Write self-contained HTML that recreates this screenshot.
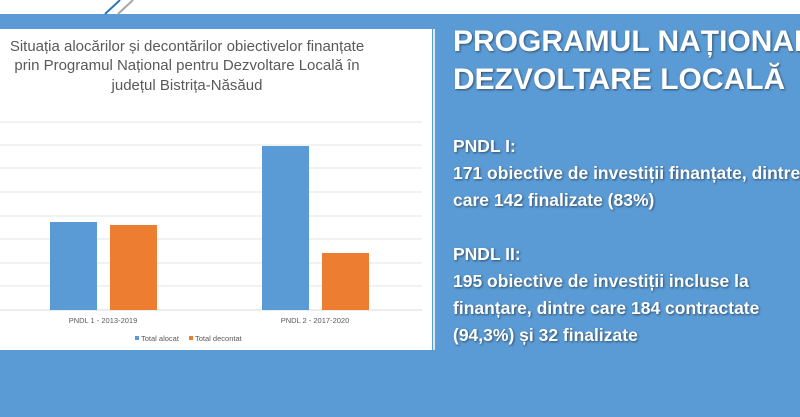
<!DOCTYPE html>
<html><head><meta charset="utf-8"><style>
body{margin:0;width:800px;height:417px;overflow:hidden;background:#5b9bd5;position:relative;font-family:"Liberation Sans",sans-serif}
.top{position:absolute;left:0;top:0;width:800px;height:14px;background:#fff}
.panel{position:absolute;left:0;top:29px;width:432px;height:321px;background:#fff}
.t{position:absolute;color:#fff;font-weight:bold;text-shadow:1px 1px 2px rgba(0,0,0,.5);white-space:nowrap;left:453px}
</style></head><body>
<div class="top"></div>
<svg style="position:absolute;left:0;top:0" width="800" height="20">
<line x1="105" y1="14" x2="120" y2="0" stroke="#2e75b6" stroke-width="2"/>
<line x1="118" y1="14" x2="133" y2="0" stroke="#a6a6a6" stroke-width="2"/>
</svg>
<div class="panel"></div>
<svg style="position:absolute;left:0;top:0" width="440" height="360">
<g font-family="Liberation Sans, sans-serif" fill="#595959" font-size="15" text-anchor="middle">
<text x="187" y="51">Situația alocărilor și decontărilor obiectivelor finanțate</text>
<text x="187" y="70">prin Programul Național pentru Dezvoltare Locală în</text>
<text x="187" y="90">județul Bistrița-Năsăud</text>
</g>
<g stroke="#e6e6e6" stroke-width="1">
<line x1="0" y1="122" x2="422" y2="122"/><line x1="0" y1="145" x2="422" y2="145"/>
<line x1="0" y1="168" x2="422" y2="168"/><line x1="0" y1="192" x2="422" y2="192"/>
<line x1="0" y1="216" x2="422" y2="216"/><line x1="0" y1="239" x2="422" y2="239"/>
<line x1="0" y1="263" x2="422" y2="263"/><line x1="0" y1="286" x2="422" y2="286"/>
</g>
<line x1="0" y1="310" x2="422" y2="310" stroke="#d9d9d9"/>
<rect x="50" y="222" width="47" height="88" fill="#5b9bd5"/>
<rect x="110" y="225" width="47" height="85" fill="#ed7d31"/>
<rect x="262" y="146" width="47" height="164" fill="#5b9bd5"/>
<rect x="322" y="253" width="47" height="57" fill="#ed7d31"/>
<g font-family="Liberation Sans, sans-serif" fill="#595959" font-size="7.5" text-anchor="middle">
<text x="103" y="323">PNDL 1 - 2013-2019</text>
<text x="315" y="323">PNDL 2 - 2017-2020</text>
</g>
<rect x="135" y="336" width="4" height="4" fill="#5b9bd5"/>
<rect x="189" y="336" width="4" height="4" fill="#ed7d31"/>
<g font-family="Liberation Sans, sans-serif" fill="#595959" font-size="7.5">
<text x="141" y="341">Total alocat</text>
<text x="195" y="341">Total decontat</text>
</g>
</svg>
<div style="position:absolute;left:433px;top:29px;width:2px;height:321px;background:#fff;opacity:.8"></div>
<div class="t" style="top:23px;font-size:30px;line-height:38px">PROGRAMUL NAȚIONAL<br>DEZVOLTARE LOCALĂ</div>
<div class="t" style="top:133px;font-size:17.5px;line-height:27px">PNDL I:<br>171 obiective de investiții finanțate, dintre<br>care 142 finalizate (83%)<br><br>PNDL II:<br>195 obiective de investiții incluse la<br>finanțare, dintre care 184 contractate<br>(94,3%) și 32 finalizate</div>
</body></html>
